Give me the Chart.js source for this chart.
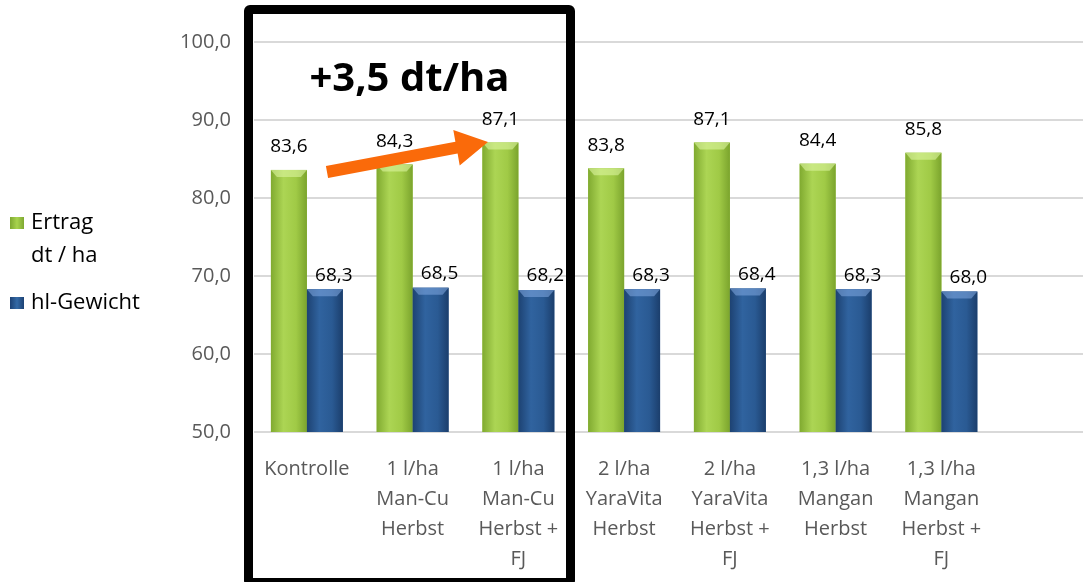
<!DOCTYPE html>
<html lang="de">
<head>
<meta charset="UTF-8" />
<title>Ertrag und hl-Gewicht</title>
<script src="https://cdn.jsdelivr.net/npm/chart.js"></script>
<style>
  html, body { margin: 0; padding: 0; background: #fff; overflow: hidden; }
  body { width: 1083px; height: 582px; position: relative; font-family: "Open Sans", sans-serif; }
  .chart-box { position: absolute; left: 0; top: 0; width: 1100px; height: 582px; }
  .legend { position: absolute; left: 10px; color: #000; font-size: 22px; line-height: 33px; }
  .legend .sw { display: inline-block; width: 14px; height: 12px; margin-right: 7px; vertical-align: 0px; }
  .frame { position: absolute; left: 244px; top: 5px; width: 331px; height: 582px; box-sizing: border-box;
           border: 9px solid #000; border-radius: 6px; pointer-events: none; }
  .gain { position: absolute; left: 253px; width: 313px; top: 48px; text-align: center;
          font-weight: bold; font-size: 40px; color: #000; }
  svg.arrow { position: absolute; left: 0; top: 0; }
</style>
</head>
<body>
<div class="chart-box"><canvas id="c"></canvas></div>

<div class="legend" style="top:204px">
  <div><span class="sw" style="background:linear-gradient(90deg,#7ea832,#a8d34e,#7ea832)"></span>Ertrag</div>
  <div style="padding-left:21px">dt / ha</div>
</div>
<div class="legend" style="top:284px">
  <div><span class="sw" style="background:linear-gradient(90deg,#1d4274,#346aa6,#1d4274)"></span>hl-Gewicht</div>
</div>

<div class="frame"></div>
<div class="gain">+3,5 dt/ha</div>
<svg class="arrow" width="1083" height="582">
  <polygon fill="#fa6a0a"
    points="325.9,166.1 455.4,141.8 453.3,130 488,142 459.7,165.4 457.6,153.6 328.1,177.9" />
</svg>

<script>
// categories (last slot is empty, plot continues to the right edge)
const categories = [
  ["Kontrolle"],
  ["1 l/ha", "Man-Cu", "Herbst"],
  ["1 l/ha", "Man-Cu", "Herbst +", "FJ"],
  ["2 l/ha", "YaraVita", "Herbst"],
  ["2 l/ha", "YaraVita", "Herbst +", "FJ"],
  ["1,3 l/ha", "Mangan", "Herbst"],
  ["1,3 l/ha", "Mangan", "Herbst +", "FJ"],
  [""]
];
const ertrag = [83.6, 84.3, 87.1, 83.8, 87.1, 84.4, 85.8, null];
const hlGewicht = [68.3, 68.5, 68.2, 68.3, 68.4, 68.3, 68.0, null];
const yTicks = [50, 60, 70, 80, 90, 100];

const fmt = v => v.toFixed(1).replace('.', ',');

// repaint each bar with a cylinder-like shading and a bevelled top
const shade = {
  id: 'shade',
  afterDatasetsDraw(chart) {
    const ctx = chart.ctx;
    const bottom = chart.scales.y.getPixelForValue(50);
    const stops = [
      ['#80aa30', '#acd554', '#a0ca46', '#7ba42d'],
      ['#1d4272', '#30639f', '#2a5a93', '#1b3e6c']
    ];
    const tops = ['rgba(220,245,160,0.6)', 'rgba(130,170,225,0.55)'];
    chart.data.datasets.forEach((ds, i) => {
      chart.getDatasetMeta(i).data.forEach((bar, j) => {
        if (ds.data[j] == null) return;
        const l = bar.x - bar.width / 2, r = bar.x + bar.width / 2, t = bar.y;
        const g = ctx.createLinearGradient(l, 0, r, 0);
        g.addColorStop(0, stops[i][0]);
        g.addColorStop(0.35, stops[i][1]);
        g.addColorStop(0.7, stops[i][2]);
        g.addColorStop(1, stops[i][3]);
        ctx.save();
        ctx.fillStyle = g;
        ctx.fillRect(l, t, r - l, bottom - t);
        ctx.fillStyle = tops[i];
        ctx.beginPath();
        ctx.moveTo(l, t); ctx.lineTo(r, t); ctx.lineTo(r - 6, t + 7); ctx.lineTo(l + 6, t + 7);
        ctx.closePath(); ctx.fill();
        ctx.restore();
      });
    });
  }
};

const valueLabels = {
  id: 'valueLabels',
  afterDatasetsDraw(chart) {
    const ctx = chart.ctx;
    const offs = [{ dx: 0, dy: 23 }, { dx: 9, dy: 14 }];
    ctx.save();
    ctx.font = '19px "Open Sans"';
    ctx.fillStyle = '#000';
    ctx.textAlign = 'center';
    ctx.textBaseline = 'middle';
    chart.data.datasets.forEach((ds, i) => {
      chart.getDatasetMeta(i).data.forEach((bar, j) => {
        const v = ds.data[j];
        if (v == null) return;
        ctx.fillText(fmt(v), bar.x + offs[i].dx, bar.y - offs[i].dy);
      });
    });
    ctx.restore();
  }
};

new Chart(document.getElementById('c'), {
  type: 'bar',
  data: {
    labels: categories,
    datasets: [
      { label: 'Ertrag dt / ha', data: ertrag, backgroundColor: '#9bc53d' },
      { label: 'hl-Gewicht', data: hlGewicht, backgroundColor: '#2b5b94' }
    ]
  },
  options: {
    responsive: true,
    maintainAspectRatio: false,
    animation: false,
    categoryPercentage: 0.68,
    barPercentage: 1,
    layout: { padding: { top: 42, left: 0, right: 0, bottom: 0 } },
    plugins: { legend: { display: false }, tooltip: { enabled: false } },
    scales: {
      x: {
        grid: { display: false },
        border: { display: false },
        afterFit(s) { s.height = 150; },
        ticks: {
          color: '#595959',
          font: { family: 'Open Sans', size: 20, lineHeight: 1.5 },
          padding: 14,
          maxRotation: 0,
          autoSkip: false
        }
      },
      y: {
        min: 50,
        max: 100,
        afterFit(s) { s.width = 254; },
        afterBuildTicks(s) { s.ticks = yTicks.map(v => ({ value: v })); },
        grid: { color: '#d9d9d9', lineWidth: 2, drawTicks: false },
        border: { display: false },
        ticks: {
          color: '#595959',
          font: { family: 'Open Sans', size: 20 },
          padding: 23,
          callback: v => fmt(v)
        }
      }
    }
  },
  plugins: [shade, valueLabels]
});
</script>
</body>
</html>
